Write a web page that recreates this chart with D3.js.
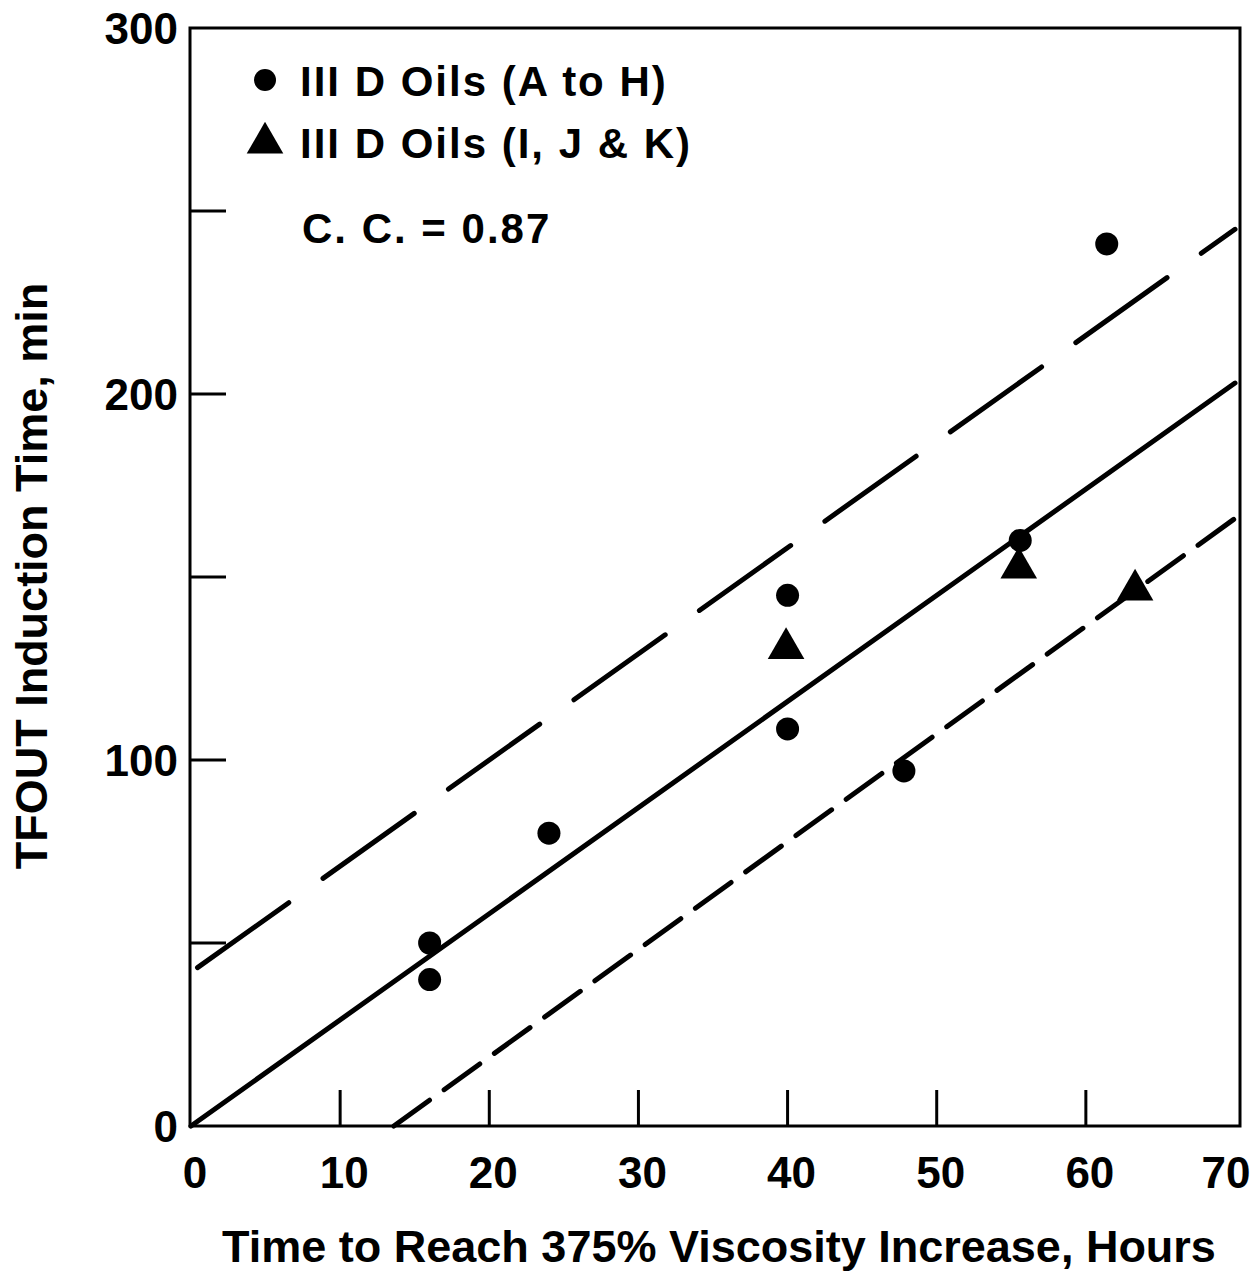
<!DOCTYPE html>
<html>
<head>
<meta charset="utf-8">
<script src="https://cdn.jsdelivr.net/npm/d3@7"></script>
<style>
  html, body { margin: 0; padding: 0; background: #fff; }
  svg { display: block; }
  text { font-family: "Liberation Sans", Arial, Helvetica, sans-serif; font-weight: bold; fill: #000; }
</style>
</head>
<body>
<svg id="chart" width="1257" height="1278"></svg>
<script>
// ---- data ----
const circlesX = [16, 16, 24, 40, 40, 47.8, 55.6, 61.4];
const circlesY = [50, 40, 80, 145, 108.5, 97, 160, 241];
const trianglesX = [39.9, 55.5, 63.3];
const trianglesY = [130.5, 152.5, 146.5];
const fitLine = [[0, 0], [70, 203]];
const upperLine = [[0, 42], [70, 245]];
const lowerLine = [[13.6, 0], [70, 166]];
const xTicks = [10, 20, 30, 40, 50, 60];
const xTickLabels = [0, 10, 20, 30, 40, 50, 60, 70];
const yTicks = [50, 100, 150, 200, 250];
const yTickLabels = [0, 100, 200, 300];
const legendLabels = ["III D Oils (A to H)", "III D Oils (I, J & K)"];
const ccLabel = "C. C. = 0.87";
const xTitle = "Time to Reach 375% Viscosity Increase, Hours";
const yTitle = "TFOUT Induction Time, min";

// ---- layout ----
const box = { left: 190, right: 1240, top: 28, bottom: 1126 };
const x = d3.scaleLinear().domain([0, 70]).range([191, 1235]);
const y = d3.scaleLinear().domain([0, 300]).range([box.bottom, box.top]);

const svg = d3.select("#chart");

// frame
svg.append("rect")
  .attr("x", box.left).attr("y", box.top)
  .attr("width", box.right - box.left).attr("height", box.bottom - box.top)
  .attr("fill", "none").attr("stroke", "#000").attr("stroke-width", 3);

// inward ticks
const tickLen = 36;
svg.append("g").selectAll("line").data(xTicks).join("line")
  .attr("x1", d => x(d)).attr("x2", d => x(d))
  .attr("y1", box.bottom).attr("y2", box.bottom - tickLen)
  .attr("stroke", "#000").attr("stroke-width", 3);
svg.append("g").selectAll("line").data(yTicks).join("line")
  .attr("x1", box.left).attr("x2", box.left + tickLen)
  .attr("y1", d => y(d)).attr("y2", d => y(d))
  .attr("stroke", "#000").attr("stroke-width", 3);

// tick labels
svg.append("g").selectAll("text").data(xTickLabels).join("text")
  .attr("x", d => Math.min(x(d) + 4, 1226)).attr("y", box.bottom + 62)
  .attr("text-anchor", "middle").attr("font-size", 44)
  .text(d => d);
svg.append("g").selectAll("text").data(yTickLabels).join("text")
  .attr("x", box.left - 12).attr("y", d => y(d)).attr("dy", "0.36em")
  .attr("text-anchor", "end").attr("font-size", 44)
  .text(d => d);

// axis titles
svg.append("text")
  .attr("x", 719).attr("y", 1262)
  .attr("text-anchor", "middle").attr("font-size", 45)
  .text(xTitle);
svg.append("text")
  .attr("transform", "translate(47,576) rotate(-90)")
  .attr("text-anchor", "middle").attr("font-size", 45)
  .text(yTitle);

// lines
const lineGen = d3.line().x(d => x(d[0])).y(d => y(d[1]));
svg.append("path").attr("d", lineGen(fitLine))
  .attr("fill", "none").attr("stroke", "#000").attr("stroke-width", 5)
  .attr("stroke-linecap", "round");
svg.append("path").attr("d", lineGen(upperLine))
  .attr("fill", "none").attr("stroke", "#000").attr("stroke-width", 5)
  .attr("stroke-linecap", "round").attr("stroke-dasharray", "112,42")
  .attr("stroke-dashoffset", -8);
svg.append("path").attr("d", lineGen(lowerLine))
  .attr("fill", "none").attr("stroke", "#000").attr("stroke-width", 5)
  .attr("stroke-linecap", "round").attr("stroke-dasharray", "44,18");

// points
const circleData = circlesX.map((v, i) => [v, circlesY[i]]);
const triData = trianglesX.map((v, i) => [v, trianglesY[i]]);
svg.append("g").selectAll("circle").data(circleData).join("circle")
  .attr("cx", d => x(d[0])).attr("cy", d => y(d[1])).attr("r", 11.5)
  .attr("fill", "#000");
const triSym = d3.symbol().type(d3.symbolTriangle).size(580);
svg.append("g").selectAll("path").data(triData).join("path")
  .attr("d", triSym)
  .attr("transform", d => `translate(${x(d[0])},${y(d[1])})`)
  .attr("fill", "#000");

// legend
svg.append("circle").attr("cx", 265).attr("cy", 80).attr("r", 11).attr("fill", "#000");
svg.append("path").attr("d", d3.symbol().type(d3.symbolTriangle).size(580))
  .attr("transform", "translate(265,143)").attr("fill", "#000");
svg.append("g").selectAll("text").data(legendLabels).join("text")
  .attr("x", 300).attr("y", (d, i) => 96 + i * 62)
  .attr("font-size", 42).attr("letter-spacing", 2)
  .text(d => d);
svg.append("text").attr("x", 302).attr("y", 243)
  .attr("font-size", 42).attr("letter-spacing", 2)
  .text(ccLabel);
</script>
</body>
</html>
